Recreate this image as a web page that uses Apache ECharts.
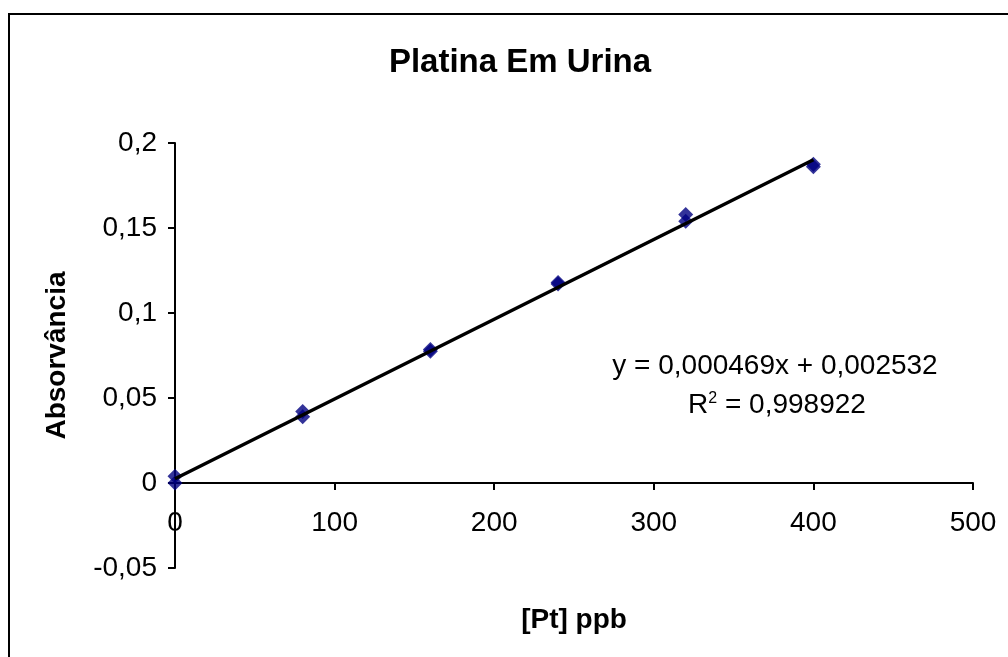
<!DOCTYPE html>
<html>
<head>
<meta charset="utf-8">
<script src="https://cdn.jsdelivr.net/npm/echarts@6/dist/echarts.min.js"></script>
<style>
html,body{margin:0;padding:0;background:#fff;}
#chart{width:1008px;height:657px;}
</style>
</head>
<body>
<div id="chart"></div>
<script>
// Data
var concentrations = [0, 0, 80, 80, 160, 160, 240, 240, 320, 320, 400, 400];
var absorbances = [0.004, 0.0, 0.042, 0.039, 0.0775, 0.0785, 0.118, 0.117, 0.158, 0.154, 0.1875, 0.186];
var trendX = [0, 400];
var trendY = [0.002532, 0.190132];
var xTicks = [0, 100, 200, 300, 400, 500];
var yTicks = [-0.05, 0, 0.05, 0.1, 0.15, 0.2];
var titleText = 'Platina Em Urina';
var xName = '[Pt] ppb';
var yName = 'Absorvância';
var eqLine1 = 'y = 0,000469x + 0,002532';
var eqLine2 = 'R{sup|2} = 0,998922';

var FONT = '"Liberation Sans", Arial, sans-serif';
var points = concentrations.map(function (x, i) { return [x, absorbances[i]]; });
var trend = trendX.map(function (x, i) { return [x, trendY[i]]; });

function fmt(v) {
  return String(+(+v).toFixed(2)).replace('.', ',');
}

var GRID = {left: 175, right: 35, top: 143, bottom: 89};
var gridH = 657 - GRID.top - GRID.bottom;
var yMin = yTicks[0], yMax = yTicks[yTicks.length - 1];
// move the x axis (line, ticks, labels, name) up to the y = 0 level
var xAxisOffset = -((0 - yMin) / (yMax - yMin)) * gridH;

var chart = echarts.init(document.getElementById('chart'), null, {renderer: 'canvas'});
chart.setOption({
  animation: false,
  backgroundColor: '#fff',
  title: {
    text: titleText,
    left: 515,
    textAlign: 'center',
    top: 41,
    textStyle: {fontFamily: FONT, fontWeight: 'bold', fontSize: 33, color: '#000'}
  },
  grid: {left: GRID.left, right: GRID.right, top: GRID.top, bottom: GRID.bottom, outerBoundsMode: 'none', containLabel: false},
  xAxis: {
    type: 'value',
    min: xTicks[0],
    max: xTicks[xTicks.length - 1],
    interval: 100,
    offset: xAxisOffset,
    name: xName,
    nameLocation: 'middle',
    nameGap: 123,
    nameMoveOverlap: false,
    nameTextStyle: {fontFamily: FONT, fontWeight: 'bold', fontSize: 28, color: '#000'},
    axisLine: {onZero: false, lineStyle: {color: '#000', width: 2}},
    axisTick: {show: true, inside: false, length: 7, lineStyle: {color: '#000', width: 2}},
    axisLabel: {fontFamily: FONT, fontSize: 28, color: '#000', margin: 26},
    splitLine: {show: false}
  },
  yAxis: {
    type: 'value',
    min: yMin,
    max: yMax,
    interval: 0.05,
    name: yName,
    nameLocation: 'middle',
    nameRotate: 90,
    nameGap: 104,
    nameMoveOverlap: false,
    nameTextStyle: {fontFamily: FONT, fontWeight: 'bold', fontSize: 28, color: '#000'},
    axisLine: {show: true, onZero: false, lineStyle: {color: '#000', width: 2}},
    axisTick: {show: true, inside: false, length: 7, lineStyle: {color: '#000', width: 2}},
    axisLabel: {fontFamily: FONT, fontSize: 28, color: '#000', margin: 18, formatter: fmt},
    splitLine: {show: false}
  },
  graphic: [
    {
      type: 'rect',
      shape: {x: 9, y: 14, width: 1200, height: 900},
      style: {fill: 'none', stroke: '#000', lineWidth: 2},
      silent: true,
      z: 100
    },
    {
      type: 'text',
      x: 775, y: 366,
      style: {
        text: eqLine1, fill: '#000', font: '28px ' + FONT,
        align: 'center', verticalAlign: 'middle'
      }
    },
    {
      type: 'text',
      x: 777, y: 405,
      style: {
        text: eqLine2, fill: '#000', font: '28px ' + FONT,
        align: 'center', verticalAlign: 'middle',
        rich: {sup: {fontSize: 16, fontFamily: FONT, verticalAlign: 'top', padding: [0, 0, 12, 0], fill: '#000'}}
      }
    }
  ],
  series: [
    {
      type: 'scatter',
      data: points,
      symbol: 'diamond',
      symbolSize: 15,
      itemStyle: {color: '#000080'},
      z: 2
    },
    {
      type: 'line',
      data: trend,
      symbol: 'none',
      lineStyle: {color: '#000', width: 3.5},
      z: 3
    }
  ]
});
</script>
</body>
</html>
